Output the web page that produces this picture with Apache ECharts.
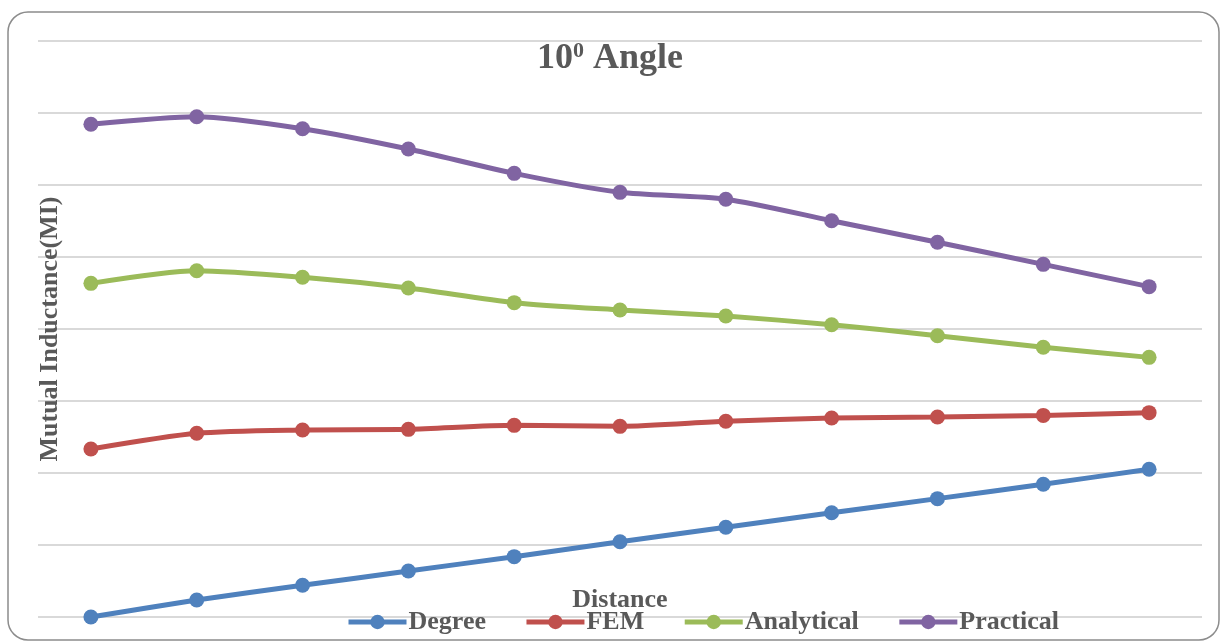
<!DOCTYPE html>
<html>
<head>
<meta charset="utf-8">
<title>10° Angle</title>
<script src="https://cdn.jsdelivr.net/npm/echarts@6/dist/echarts.min.js"></script>
<style>
  html, body { margin: 0; padding: 0; background: #ffffff; }
  #chart { width: 1220px; height: 641px; }
</style>
</head>
<body>
<div id="chart"></div>
<script>
// Distance steps along the horizontal axis (no tick labels are shown)
const distances = ['1', '2', '3', '4', '5', '6', '7', '8', '9', '10', '11'];

// Mutual inductance readings per method
const degree     = [0.0, 1.18, 2.2, 3.19, 4.19, 5.23, 6.23, 7.24, 8.22, 9.22, 10.26];
const fem        = [11.67, 12.76, 12.99, 13.03, 13.31, 13.24, 13.59, 13.82, 13.89, 14.0, 14.19];
const analytical = [23.17, 24.05, 23.59, 22.85, 21.83, 21.32, 20.90, 20.30, 19.53, 18.73, 18.03];
const practical  = [34.22, 34.74, 33.91, 32.5, 30.81, 29.49, 29.01, 27.52, 26.02, 24.49, 22.94];

const seriesNames = ['Degree', 'FEM', 'Analytical', 'Practical'];
const seriesColors = ['#4F81BD', '#C0504D', '#9BBB59', '#8064A2'];
const seriesData = [degree, fem, analytical, practical];

const textGrey = '#595959';
const serif = '"Liberation Serif", "Times New Roman", serif';

const chart = echarts.init(document.getElementById('chart'), null, { renderer: 'canvas' });

chart.setOption({
  backgroundColor: '#ffffff',
  animation: false,
  graphic: [{
    type: 'rect',
    shape: { x: 8, y: 12, width: 1211, height: 628, r: 20 },
    style: { fill: 'none', stroke: '#8c8c8c', lineWidth: 1.5 },
    silent: true,
    z: 0
  }],
  title: {
    text: '10{sup|0} Angle',
    left: 532,
    top: 35,
    textStyle: {
      fontFamily: serif,
      fontWeight: 'bold',
      fontSize: 36,
      color: textGrey,
      rich: {
        sup: {
          fontFamily: serif,
          fontWeight: 'bold',
          fontSize: 22,
          color: textGrey,
          verticalAlign: 'top',
          padding: [0, 0, 15, 0]
        }
      }
    }
  },
  legend: {
    data: seriesNames,
    left: 341,
    top: 604,
    itemWidth: 58,
    itemHeight: 18,
    itemGap: 38,
    lineStyle: { width: 5 },
    textStyle: {
      fontFamily: serif,
      fontWeight: 'bold',
      fontSize: 26,
      color: textGrey,
      padding: [0, 0, 0, -3]
    }
  },
  grid: {
    left: 38,
    right: 18,
    top: 41,
    bottom: 24,
    containLabel: false
  },
  xAxis: {
    type: 'category',
    data: distances,
    boundaryGap: true,
    name: 'Distance',
    nameLocation: 'middle',
    nameGap: -30,
    nameTextStyle: {
      fontFamily: serif,
      fontWeight: 'bold',
      fontSize: 26,
      color: textGrey
    },
    axisLine: { show: false },
    axisTick: { show: false },
    axisLabel: { show: false },
    splitLine: { show: false }
  },
  yAxis: {
    type: 'value',
    min: 0,
    max: 40,
    interval: 5,
    name: 'Mutual Inductance(MI)',
    nameLocation: 'middle',
    nameRotate: 90,
    nameGap: -25,
    nameTextStyle: {
      fontFamily: serif,
      fontWeight: 'bold',
      fontSize: 26,
      color: textGrey
    },
    axisLine: { show: false },
    axisTick: { show: false },
    axisLabel: { show: false },
    splitLine: { show: true, lineStyle: { color: '#d9d9d9', width: 2 } }
  },
  series: seriesNames.map((name, i) => ({
    name: name,
    type: 'line',
    data: seriesData[i],
    smooth: 0.25,
    symbol: 'circle',
    symbolSize: 15,
    lineStyle: { width: 5, color: seriesColors[i] },
    itemStyle: { color: seriesColors[i] },
    z: 3
  }))
});
</script>
</body>
</html>
